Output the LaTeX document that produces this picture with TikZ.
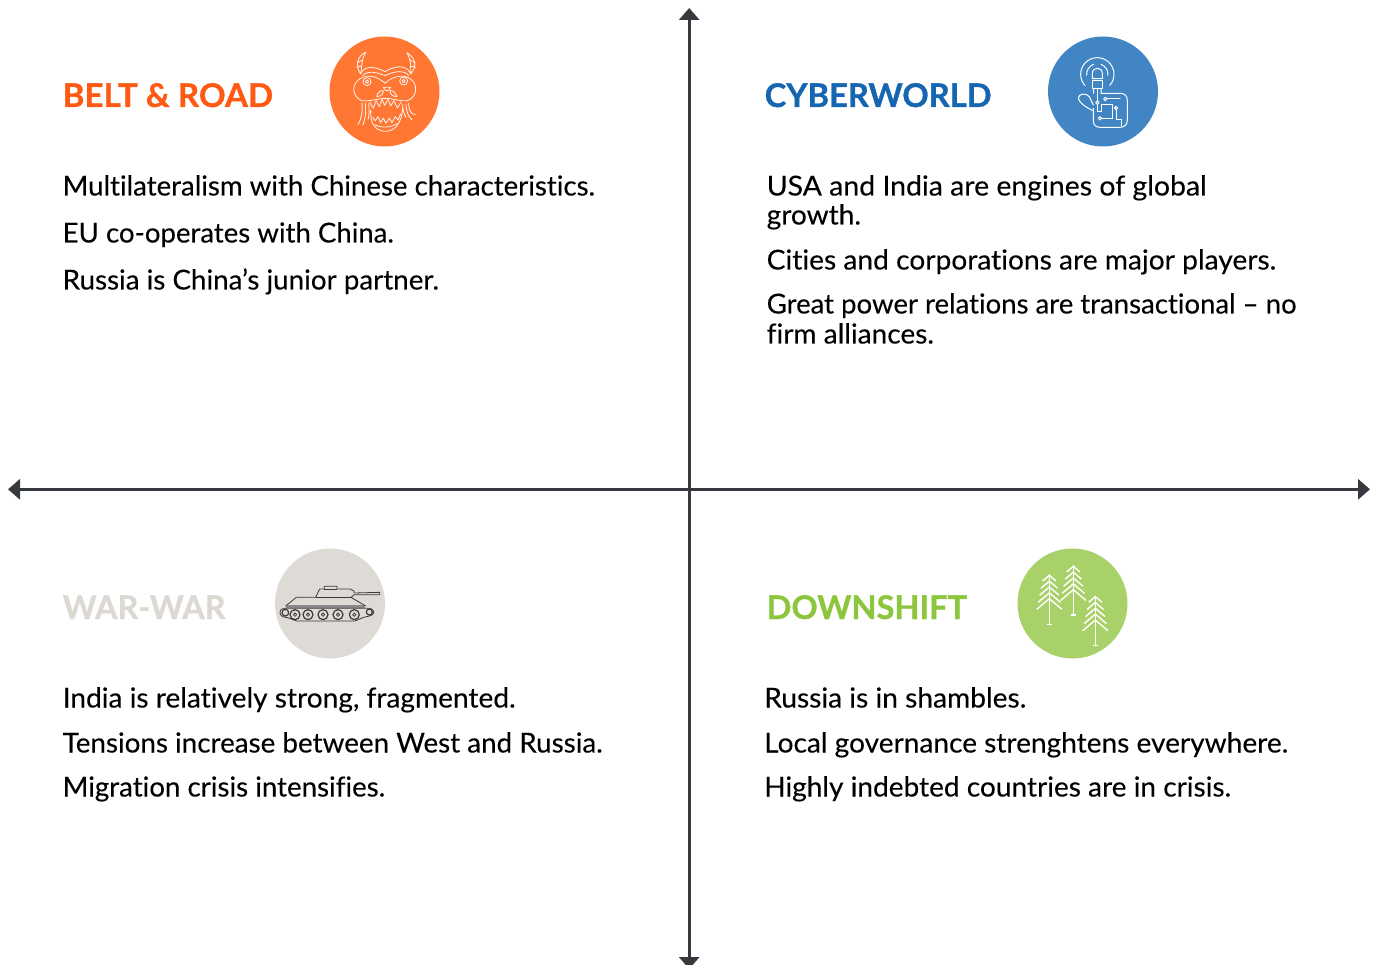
\documentclass[tikz,border=0pt]{standalone}
\usepackage{fontspec}
\usepackage{graphicx}
\setmainfont[Ligatures=NoCommon]{Lato}
\usetikzlibrary{arrows.meta}
\definecolor{axisc}{HTML}{36393D}
\definecolor{torange}{HTML}{FF5A14}
\definecolor{corange}{HTML}{FF7733}
\definecolor{tblue}{HTML}{1565B0}
\definecolor{cblue}{HTML}{4285C5}
\definecolor{tgray}{HTML}{DCD9D3}
\definecolor{cgray}{HTML}{DEDBD6}
\definecolor{tgreen}{HTML}{8CC63F}
\definecolor{cgreen}{HTML}{A8D16A}
\definecolor{tankc}{HTML}{3A3A3A}
\newcommand{\fitx}[2]{\scalebox{#1}[1]{#2}}
\tikzset{
 x=1pt,y=-1pt,
 axisline/.style={draw=axisc,line width=3pt,{Triangle[width=20pt,length=12pt]}-{Triangle[width=20pt,length=12pt]}},
 body/.style={anchor=base west,inner sep=0pt,font=\fontsize{27.5}{29.5}\selectfont\addfontfeature{FakeBold=0.15},text=black,align=left},
 head/.style={anchor=base west,inner sep=0pt,font=\fontsize{32.7}{36}\selectfont\bfseries\addfontfeature{FakeBold=0.9}},
 disc/.style={circle,minimum size=110pt,inner sep=0pt,draw=none},
 icon/.style={draw=white!90!corange,line width=0.85pt,line cap=round,line join=round},
 iconb/.style={draw=white,line width=1pt,line cap=round,line join=round},
 tree/.style={draw=white,line width=1.4pt},
 tank/.style={draw=tankc,line width=0.8pt,line join=round},
 zm/.style={x=0.3333pt,y=-0.3333pt},
}
\begin{document}
\begin{tikzpicture}
\useasboundingbox (0,0) rectangle (1377,965);
\clip (0,0) rectangle (1377,965);
\coordinate (top) at (689.2,8);
\coordinate (bot) at (689.2,969);
\coordinate (lft) at (8,489.3);
\coordinate (rgt) at (1370,489.3);
\draw[axisline] (top) -- (bot);
\draw[axisline] (lft) -- (rgt);

% headings
\node[head,text=torange] (h1) at (62.5,107) {\fitx{1.014}{BELT \& ROAD}};
\node[head,text=tblue] (h2) at (764.5,107) {CYBERWORLD};
\node[head,text=tgray] (h3) at (62.5,619) {\fitx{0.988}{WAR-WAR}};
\node[head,text=tgreen] (h4) at (766.5,619) {\fitx{0.995}{DOWNSHIFT}};

% discs
\node[disc,fill=corange] (d1) at (384.5,91.5) {};
\node[disc,fill=cblue] (d2) at (1103,91.5) {};
\node[disc,fill=cgray] (d3) at (330,603.5) {};
\node[disc,fill=cgreen] (d4) at (1072.5,603.5) {};

% body text
\node[body] (t1a) at (62.5,195.5) {\fitx{1.005}{Multilateralism with Chinese characteristics.}};
\node[body] (t1b) at (62.5,242.5) {\fitx{1.003}{EU co-operates with China.}};
\node[body] (t1c) at (62.5,289.5) {\fitx{1.010}{Russia is China’s junior partner.}};
\node[body] (t2a) at (766.5,195.5) {\fitx{1.034}{USA and India are engines of global}};
\node[body] (t2a2) at (766.5,224.5) {\fitx{1.020}{growth.}};
\node[body] (t2b) at (766.5,269.5) {\fitx{1.024}{Cities and corporations are major players.}};
\node[body] (t2c) at (766.5,313.5) {\fitx{1.002}{Great power relations are transactional – no}};
\node[body] (t2c2) at (766.5,343.5) {\fitx{1.020}{firm alliances.}};
\node[body] (t3a) at (62.5,707.5) {\fitx{1.022}{India is relatively strong, fragmented.}};
\node[body] (t3b) at (62.5,752.5) {\fitx{1.011}{Tensions increase between West and Russia.}};
\node[body] (t3c) at (62.5,796.5) {\fitx{1.007}{Migration crisis intensifies.}};
\node[body] (t4a) at (764,707.5) {\fitx{1.024}{Russia is in shambles.}};
\node[body] (t4b) at (764,752.5) {\fitx{1.021}{Local governance strenghtens everywhere.}};
\node[body] (t4c) at (764,796.5) {\fitx{1.020}{Highly indebted countries are in crisis.}};

% dragon
\begin{scope}[xshift=320pt,yshift=-30pt,zm,icon]
\draw (138,66) .. controls (112,78) and (104,105) .. (122,132) .. controls (126,112) and (124,85) .. (138,66);
\draw (260,68) .. controls (284,80) and (294,108) .. (272,132) .. controls (272,110) and (274,88) .. (260,68);
\draw (112,98) -- (128,90) (110,112) -- (125,108) (270,90) -- (286,98) (272,108) -- (288,112);
\draw (122,130) .. controls (140,100) and (175,115) .. (195,125) .. controls (220,110) and (255,100) .. (272,130);
\draw (128,136) .. controls (150,118) and (175,130) .. (195,137) .. controls (220,125) and (250,118) .. (266,136);
\draw (195,160) .. controls (170,135) and (130,130) .. (110,155) .. controls (95,175) and (100,200) .. (125,212);
\draw (195,160) .. controls (220,135) and (262,130) .. (280,155) .. controls (295,175) and (285,205) .. (262,212);
\draw (141,155) circle (12) (141,155) circle (5);
\draw (251,153) circle (12) (251,153) circle (5);
\draw (190,172) -- (212,172) -- (205,182) -- (197,182) -- cycle;
\draw (170,200) .. controls (172,188) and (182,180) .. (190,182) .. controls (190,192) and (182,200) .. (170,200);
\draw (230,200) .. controls (228,188) and (218,180) .. (210,182) .. controls (210,192) and (218,200) .. (230,200);
\draw (125,212) .. controls (155,215) and (175,205) .. (195,205) .. controls (220,205) and (240,215) .. (262,212);
\draw (150,218) -- (160,235) -- (168,212) -- (178,230) -- (186,208) -- (194,226) -- (204,208) -- (212,228) -- (222,212) -- (232,234) -- (244,216);
\draw (152,240) .. controls (150,280) and (165,302) .. (195,304) .. controls (225,304) and (245,280) .. (248,235);
\draw (158,262) -- (166,272) -- (174,260) -- (182,278) -- (190,264) -- (198,280) -- (208,264) -- (216,278) -- (226,260) -- (234,270) -- (242,252);
\draw (165,284) .. controls (180,294) and (215,294) .. (232,280);
\draw (126,218) .. controls (128,240) and (126,265) .. (114,284);
\draw (136,220) .. controls (138,245) and (136,270) .. (128,286);
\draw (146,220) .. controls (148,240) and (148,255) .. (144,268);
\draw (266,220) .. controls (266,240) and (272,252) .. (286,254);
\draw (258,222) .. controls (258,245) and (266,260) .. (276,270);
\draw (248,224) .. controls (248,240) and (252,252) .. (258,262);
\end{scope}

% cyber icon
\begin{scope}[xshift=1040pt,yshift=-30pt,zm,iconb]
\draw (172,133) ++(42:50) arc[start angle=42,end angle=-222,radius=50];
\draw (172,133) ++(5:32) arc[start angle=5,end angle=-70,radius=32];
\draw (172,133) ++(175:32) arc[start angle=175,end angle=250,radius=32];
\draw (157,146) -- (157,130) .. controls (157,110) and (187,110) .. (187,130) -- (187,146) -- cycle;
\draw (158,153) rectangle (187,176);
\draw (161,176) -- (161,190) (183,176) -- (183,190) -- (240,190) .. controls (255,190) and (262,198) .. (262,212) -- (262,270) .. controls (262,285) and (252,292) .. (240,292) -- (180,292) .. controls (168,292) and (160,285) .. (160,272) -- (160,235);
\draw (172,176) -- (172,213);
\draw (172,218) circle (5) (196,207) circle (5) (228,234) circle (5) (180,265) circle (5);
\draw (201,207) -- (240,207);
\draw (172,223) -- (172,245) -- (183,245) -- (183,225) -- (218,225) -- (218,265) -- (185,265);
\draw (228,239) -- (228,268) -- (245,268) -- (245,288);
\draw (160,242) .. controls (140,235) and (115,215) .. (115,205) .. controls (115,190) and (138,188) .. (148,200) -- (160,225);
\end{scope}

% tank
\begin{scope}[xshift=265pt,yshift=-540pt,zm]
\fill[tankc!60] (62,196) -- (300,196) -- (300,205) -- (62,205) -- cycle;
\draw[tank] (62,198) -- (94,172) -- (152,172) -- (164,147) -- (178,147) -- (178,139) -- (216,139) -- (216,147) -- (255,147) -- (267,153) -- (267,159) -- (344,157) -- (344,164) -- (268,164) -- (258,172) -- (302,198);
\draw[tank] (152,172) -- (258,172);
\draw[tank] (178,147) -- (216,147);
\draw[tank] (60,205) -- (300,205) .. controls (315,203) and (327,208) .. (326,218) .. controls (325,228) and (310,228) .. (296,232) -- (270,243) -- (95,243) -- (68,233) .. controls (55,232) and (45,228) .. (45,218) .. controls (45,208) and (52,205) .. (60,205);
\foreach \cx in {90,129,174,219,268}{
 \draw[tank,line width=1.2pt] (\cx,224) circle (15);
 \draw[tank] (\cx,224) circle (5);
}
\draw[tank,line width=1.2pt] (61,218) circle (10);
\draw[tank,line width=1.2pt] (313,216) circle (9);
\end{scope}

% trees
\begin{scope}[xshift=1010pt,yshift=-540pt,zm,tree]
\foreach \tx/\ty/\tb in {118/103/253,190/76/225,256/167/316}{
 \draw (\tx,\ty) -- (\tx,\tb) (\tx-8,\tb) -- (\tx+8,\tb);
 \foreach \k in {0,1,2,3,4}{
  \pgfmathsetmacro{\dx}{20+\k*4.5}
  \draw (\tx-\dx,\ty+3+\k*17.5+\dx*0.85) -- (\tx,\ty+3+\k*17.5) -- (\tx+\dx,\ty+3+\k*17.5+\dx*0.85);
 }
}
\end{scope}
\end{tikzpicture}
\end{document}
